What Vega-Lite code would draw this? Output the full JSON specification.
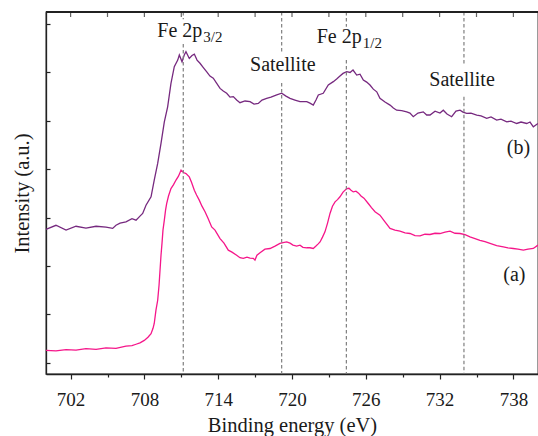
{
  "$schema": "https://vega.github.io/schema/vega-lite/v6.json",
  "width": 492,
  "height": 362,
  "autosize": {"type": "none"},
  "padding": {"left": 46, "top": 12, "right": 0, "bottom": 62},
  "background": "white",
  "config": {
    "view": {"stroke": "#222222", "strokeWidth": 1.3},
    "font": "Liberation Serif",
    "axis": {"grid": false, "domainColor": "#222222", "tickColor": "#222222", "domainWidth": 1.3, "tickWidth": 1.2, "labelColor": "#1a1a1a", "titleColor": "#1a1a1a", "labelFont": "Liberation Serif", "titleFont": "Liberation Serif", "titleFontWeight": "normal"}
  },
  "datasets": {
    "spectra": [
      {"sample": "b", "energy": 700.00, "intensity": 5.51},
      {"sample": "b", "energy": 700.81, "intensity": 5.68},
      {"sample": "b", "energy": 701.63, "intensity": 5.48},
      {"sample": "b", "energy": 702.44, "intensity": 5.64},
      {"sample": "b", "energy": 703.25, "intensity": 5.56},
      {"sample": "b", "energy": 704.07, "intensity": 5.64},
      {"sample": "b", "energy": 704.88, "intensity": 5.60},
      {"sample": "b", "energy": 705.42, "intensity": 5.55},
      {"sample": "b", "energy": 705.69, "intensity": 5.68},
      {"sample": "b", "energy": 706.02, "intensity": 5.77},
      {"sample": "b", "energy": 706.50, "intensity": 5.82},
      {"sample": "b", "energy": 706.99, "intensity": 5.95},
      {"sample": "b", "energy": 707.32, "intensity": 5.89},
      {"sample": "b", "energy": 707.64, "intensity": 6.06},
      {"sample": "b", "energy": 707.86, "intensity": 6.17},
      {"sample": "b", "energy": 708.13, "intensity": 6.51},
      {"sample": "b", "energy": 708.54, "intensity": 6.86},
      {"sample": "b", "energy": 708.80, "intensity": 7.55},
      {"sample": "b", "energy": 709.08, "intensity": 8.24},
      {"sample": "b", "energy": 709.35, "intensity": 9.07},
      {"sample": "b", "energy": 709.62, "intensity": 9.96},
      {"sample": "b", "energy": 709.89, "intensity": 10.58},
      {"sample": "b", "energy": 710.16, "intensity": 11.55},
      {"sample": "b", "energy": 710.43, "intensity": 12.24},
      {"sample": "b", "energy": 710.71, "intensity": 12.51},
      {"sample": "b", "energy": 710.84, "intensity": 12.72},
      {"sample": "b", "energy": 711.06, "intensity": 12.44},
      {"sample": "b", "energy": 711.24, "intensity": 12.72},
      {"sample": "b", "energy": 711.38, "intensity": 12.86},
      {"sample": "b", "energy": 711.65, "intensity": 12.58},
      {"sample": "b", "energy": 711.87, "intensity": 12.70},
      {"sample": "b", "energy": 712.06, "intensity": 12.76},
      {"sample": "b", "energy": 712.28, "intensity": 12.51},
      {"sample": "b", "energy": 712.52, "intensity": 12.38},
      {"sample": "b", "energy": 712.76, "intensity": 12.22},
      {"sample": "b", "energy": 713.07, "intensity": 12.02},
      {"sample": "b", "energy": 713.33, "intensity": 11.85},
      {"sample": "b", "energy": 713.60, "intensity": 11.76},
      {"sample": "b", "energy": 713.88, "intensity": 11.55},
      {"sample": "b", "energy": 714.15, "intensity": 11.34},
      {"sample": "b", "energy": 714.41, "intensity": 11.23},
      {"sample": "b", "energy": 714.69, "intensity": 11.14},
      {"sample": "b", "energy": 714.96, "intensity": 10.98},
      {"sample": "b", "energy": 715.23, "intensity": 11.00},
      {"sample": "b", "energy": 715.50, "intensity": 10.86},
      {"sample": "b", "energy": 715.77, "intensity": 10.75},
      {"sample": "b", "energy": 716.18, "intensity": 10.82},
      {"sample": "b", "energy": 716.59, "intensity": 10.79},
      {"sample": "b", "energy": 716.91, "intensity": 10.69},
      {"sample": "b", "energy": 717.26, "intensity": 10.72},
      {"sample": "b", "energy": 717.56, "intensity": 10.86},
      {"sample": "b", "energy": 717.94, "intensity": 10.93},
      {"sample": "b", "energy": 718.29, "intensity": 10.98},
      {"sample": "b", "energy": 718.76, "intensity": 11.07},
      {"sample": "b", "energy": 719.16, "intensity": 11.14},
      {"sample": "b", "energy": 719.51, "intensity": 11.02},
      {"sample": "b", "energy": 719.84, "intensity": 10.93},
      {"sample": "b", "energy": 720.24, "intensity": 10.86},
      {"sample": "b", "energy": 720.65, "intensity": 10.79},
      {"sample": "b", "energy": 721.20, "intensity": 10.79},
      {"sample": "b", "energy": 721.46, "intensity": 10.73},
      {"sample": "b", "energy": 721.73, "intensity": 10.65},
      {"sample": "b", "energy": 721.95, "intensity": 10.86},
      {"sample": "b", "energy": 722.14, "intensity": 11.07},
      {"sample": "b", "energy": 722.54, "intensity": 11.14},
      {"sample": "b", "energy": 722.95, "intensity": 11.48},
      {"sample": "b", "energy": 723.36, "intensity": 11.62},
      {"sample": "b", "energy": 723.63, "intensity": 11.73},
      {"sample": "b", "energy": 723.90, "intensity": 11.85},
      {"sample": "b", "energy": 724.15, "intensity": 11.96},
      {"sample": "b", "energy": 724.45, "intensity": 12.03},
      {"sample": "b", "energy": 724.72, "intensity": 12.00},
      {"sample": "b", "energy": 724.96, "intensity": 12.10},
      {"sample": "b", "energy": 725.26, "intensity": 11.89},
      {"sample": "b", "energy": 725.53, "intensity": 11.93},
      {"sample": "b", "energy": 725.80, "intensity": 11.69},
      {"sample": "b", "energy": 726.07, "intensity": 11.60},
      {"sample": "b", "energy": 726.34, "intensity": 11.48},
      {"sample": "b", "energy": 726.61, "intensity": 11.31},
      {"sample": "b", "energy": 726.89, "intensity": 11.20},
      {"sample": "b", "energy": 727.15, "intensity": 10.93},
      {"sample": "b", "energy": 727.56, "intensity": 10.78},
      {"sample": "b", "energy": 727.97, "intensity": 10.65},
      {"sample": "b", "energy": 728.24, "intensity": 10.53},
      {"sample": "b", "energy": 728.51, "intensity": 10.44},
      {"sample": "b", "energy": 728.92, "intensity": 10.42},
      {"sample": "b", "energy": 729.33, "intensity": 10.37},
      {"sample": "b", "energy": 729.59, "intensity": 10.32},
      {"sample": "b", "energy": 729.86, "intensity": 10.17},
      {"sample": "b", "energy": 730.24, "intensity": 10.32},
      {"sample": "b", "energy": 730.67, "intensity": 10.37},
      {"sample": "b", "energy": 730.95, "intensity": 10.24},
      {"sample": "b", "energy": 731.22, "intensity": 10.24},
      {"sample": "b", "energy": 731.63, "intensity": 10.40},
      {"sample": "b", "energy": 732.03, "intensity": 10.32},
      {"sample": "b", "energy": 732.30, "intensity": 10.44},
      {"sample": "b", "energy": 732.60, "intensity": 10.28},
      {"sample": "b", "energy": 732.98, "intensity": 10.17},
      {"sample": "b", "energy": 733.33, "intensity": 10.40},
      {"sample": "b", "energy": 733.66, "intensity": 10.44},
      {"sample": "b", "energy": 733.90, "intensity": 10.36},
      {"sample": "b", "energy": 734.20, "intensity": 10.31},
      {"sample": "b", "energy": 734.55, "intensity": 10.32},
      {"sample": "b", "energy": 735.02, "intensity": 10.24},
      {"sample": "b", "energy": 735.37, "intensity": 10.20},
      {"sample": "b", "energy": 735.83, "intensity": 10.10},
      {"sample": "b", "energy": 736.18, "intensity": 10.16},
      {"sample": "b", "energy": 736.64, "intensity": 10.03},
      {"sample": "b", "energy": 736.99, "intensity": 10.07},
      {"sample": "b", "energy": 737.46, "intensity": 9.96},
      {"sample": "b", "energy": 737.80, "intensity": 9.99},
      {"sample": "b", "energy": 738.27, "intensity": 9.89},
      {"sample": "b", "energy": 738.62, "intensity": 9.95},
      {"sample": "b", "energy": 739.08, "intensity": 9.89},
      {"sample": "b", "energy": 739.35, "intensity": 9.95},
      {"sample": "b", "energy": 739.62, "intensity": 9.75},
      {"sample": "b", "energy": 740.00, "intensity": 9.89},
      {"sample": "a", "energy": 700.00, "intensity": 0.51},
      {"sample": "a", "energy": 700.81, "intensity": 0.49},
      {"sample": "a", "energy": 701.63, "intensity": 0.54},
      {"sample": "a", "energy": 702.44, "intensity": 0.52},
      {"sample": "a", "energy": 703.25, "intensity": 0.58},
      {"sample": "a", "energy": 704.07, "intensity": 0.55},
      {"sample": "a", "energy": 704.88, "intensity": 0.61},
      {"sample": "a", "energy": 705.69, "intensity": 0.59},
      {"sample": "a", "energy": 706.50, "intensity": 0.68},
      {"sample": "a", "energy": 706.99, "intensity": 0.70},
      {"sample": "a", "energy": 707.32, "intensity": 0.76},
      {"sample": "a", "energy": 707.64, "intensity": 0.82},
      {"sample": "a", "energy": 707.99, "intensity": 0.92},
      {"sample": "a", "energy": 708.29, "intensity": 1.05},
      {"sample": "a", "energy": 708.54, "intensity": 1.20},
      {"sample": "a", "energy": 708.70, "intensity": 1.42},
      {"sample": "a", "energy": 708.80, "intensity": 1.62},
      {"sample": "a", "energy": 708.94, "intensity": 2.17},
      {"sample": "a", "energy": 709.08, "intensity": 2.58},
      {"sample": "a", "energy": 709.19, "intensity": 3.20},
      {"sample": "a", "energy": 709.27, "intensity": 3.82},
      {"sample": "a", "energy": 709.35, "intensity": 4.44},
      {"sample": "a", "energy": 709.43, "intensity": 4.93},
      {"sample": "a", "energy": 709.51, "intensity": 5.48},
      {"sample": "a", "energy": 709.62, "intensity": 5.89},
      {"sample": "a", "energy": 709.72, "intensity": 6.31},
      {"sample": "a", "energy": 709.81, "intensity": 6.58},
      {"sample": "a", "energy": 709.96, "intensity": 6.89},
      {"sample": "a", "energy": 710.16, "intensity": 7.20},
      {"sample": "a", "energy": 710.37, "intensity": 7.36},
      {"sample": "a", "energy": 710.57, "intensity": 7.55},
      {"sample": "a", "energy": 710.77, "intensity": 7.71},
      {"sample": "a", "energy": 710.98, "intensity": 7.96},
      {"sample": "a", "energy": 711.18, "intensity": 7.86},
      {"sample": "a", "energy": 711.38, "intensity": 7.82},
      {"sample": "a", "energy": 711.65, "intensity": 7.68},
      {"sample": "a", "energy": 711.83, "intensity": 7.46},
      {"sample": "a", "energy": 712.06, "intensity": 7.13},
      {"sample": "a", "energy": 712.24, "intensity": 6.93},
      {"sample": "a", "energy": 712.46, "intensity": 6.72},
      {"sample": "a", "energy": 712.68, "intensity": 6.47},
      {"sample": "a", "energy": 712.93, "intensity": 6.24},
      {"sample": "a", "energy": 713.17, "intensity": 5.97},
      {"sample": "a", "energy": 713.47, "intensity": 5.61},
      {"sample": "a", "energy": 713.74, "intensity": 5.48},
      {"sample": "a", "energy": 714.15, "intensity": 5.13},
      {"sample": "a", "energy": 714.47, "intensity": 4.94},
      {"sample": "a", "energy": 714.82, "intensity": 4.65},
      {"sample": "a", "energy": 715.12, "intensity": 4.57},
      {"sample": "a", "energy": 715.50, "intensity": 4.44},
      {"sample": "a", "energy": 715.77, "intensity": 4.34},
      {"sample": "a", "energy": 716.04, "intensity": 4.31},
      {"sample": "a", "energy": 716.34, "intensity": 4.36},
      {"sample": "a", "energy": 716.59, "intensity": 4.32},
      {"sample": "a", "energy": 716.85, "intensity": 4.31},
      {"sample": "a", "energy": 716.99, "intensity": 4.24},
      {"sample": "a", "energy": 717.15, "intensity": 4.44},
      {"sample": "a", "energy": 717.40, "intensity": 4.54},
      {"sample": "a", "energy": 717.80, "intensity": 4.69},
      {"sample": "a", "energy": 718.21, "intensity": 4.72},
      {"sample": "a", "energy": 718.62, "intensity": 4.82},
      {"sample": "a", "energy": 719.02, "intensity": 4.93},
      {"sample": "a", "energy": 719.27, "intensity": 4.96},
      {"sample": "a", "energy": 719.57, "intensity": 4.99},
      {"sample": "a", "energy": 719.84, "intensity": 4.94},
      {"sample": "a", "energy": 720.08, "intensity": 4.86},
      {"sample": "a", "energy": 720.38, "intensity": 4.82},
      {"sample": "a", "energy": 720.65, "intensity": 4.86},
      {"sample": "a", "energy": 720.89, "intensity": 4.77},
      {"sample": "a", "energy": 721.20, "intensity": 4.75},
      {"sample": "a", "energy": 721.46, "intensity": 4.75},
      {"sample": "a", "energy": 721.73, "intensity": 4.72},
      {"sample": "a", "energy": 721.95, "intensity": 4.82},
      {"sample": "a", "energy": 722.11, "intensity": 4.90},
      {"sample": "a", "energy": 722.28, "intensity": 4.99},
      {"sample": "a", "energy": 722.48, "intensity": 5.19},
      {"sample": "a", "energy": 722.68, "intensity": 5.41},
      {"sample": "a", "energy": 722.89, "intensity": 5.77},
      {"sample": "a", "energy": 723.09, "intensity": 6.17},
      {"sample": "a", "energy": 723.29, "intensity": 6.47},
      {"sample": "a", "energy": 723.50, "intensity": 6.65},
      {"sample": "a", "energy": 723.70, "intensity": 6.74},
      {"sample": "a", "energy": 723.90, "intensity": 6.86},
      {"sample": "a", "energy": 724.15, "intensity": 7.05},
      {"sample": "a", "energy": 724.45, "intensity": 7.20},
      {"sample": "a", "energy": 724.63, "intensity": 7.21},
      {"sample": "a", "energy": 724.80, "intensity": 7.13},
      {"sample": "a", "energy": 724.98, "intensity": 7.06},
      {"sample": "a", "energy": 725.20, "intensity": 7.09},
      {"sample": "a", "energy": 725.41, "intensity": 7.01},
      {"sample": "a", "energy": 725.61, "intensity": 6.89},
      {"sample": "a", "energy": 725.85, "intensity": 6.80},
      {"sample": "a", "energy": 726.20, "intensity": 6.58},
      {"sample": "a", "energy": 726.46, "intensity": 6.41},
      {"sample": "a", "energy": 726.75, "intensity": 6.24},
      {"sample": "a", "energy": 727.15, "intensity": 6.10},
      {"sample": "a", "energy": 727.56, "intensity": 5.82},
      {"sample": "a", "energy": 727.97, "intensity": 5.55},
      {"sample": "a", "energy": 728.37, "intensity": 5.48},
      {"sample": "a", "energy": 728.78, "intensity": 5.44},
      {"sample": "a", "energy": 729.19, "intensity": 5.37},
      {"sample": "a", "energy": 729.59, "intensity": 5.34},
      {"sample": "a", "energy": 730.00, "intensity": 5.25},
      {"sample": "a", "energy": 730.41, "intensity": 5.24},
      {"sample": "a", "energy": 730.81, "intensity": 5.31},
      {"sample": "a", "energy": 731.22, "intensity": 5.30},
      {"sample": "a", "energy": 731.63, "intensity": 5.35},
      {"sample": "a", "energy": 732.03, "intensity": 5.34},
      {"sample": "a", "energy": 732.44, "intensity": 5.40},
      {"sample": "a", "energy": 732.85, "intensity": 5.44},
      {"sample": "a", "energy": 733.25, "intensity": 5.35},
      {"sample": "a", "energy": 733.66, "intensity": 5.34},
      {"sample": "a", "energy": 734.07, "intensity": 5.29},
      {"sample": "a", "energy": 734.47, "intensity": 5.20},
      {"sample": "a", "energy": 734.88, "intensity": 5.13},
      {"sample": "a", "energy": 735.28, "intensity": 5.06},
      {"sample": "a", "energy": 735.69, "intensity": 5.00},
      {"sample": "a", "energy": 736.10, "intensity": 4.93},
      {"sample": "a", "energy": 736.64, "intensity": 4.84},
      {"sample": "a", "energy": 737.18, "intensity": 4.79},
      {"sample": "a", "energy": 737.56, "intensity": 4.75},
      {"sample": "a", "energy": 737.99, "intensity": 4.72},
      {"sample": "a", "energy": 738.37, "intensity": 4.69},
      {"sample": "a", "energy": 738.81, "intensity": 4.65},
      {"sample": "a", "energy": 739.19, "intensity": 4.69},
      {"sample": "a", "energy": 739.62, "intensity": 4.72},
      {"sample": "a", "energy": 740.00, "intensity": 4.86}
    ],
    "guides": [
      {"energy": 711.16, "from": 14.5, "to": 14.2},
      {"energy": 711.16, "from": 13.18, "to": -0.47},
      {"energy": 719.16, "from": 14.5, "to": 12.86},
      {"energy": 719.16, "from": 11.56, "to": -0.47},
      {"energy": 724.42, "from": 14.5, "to": 13.89},
      {"energy": 724.42, "from": 12.51, "to": -0.47},
      {"energy": 733.98, "from": 14.5, "to": 12.31},
      {"energy": 733.98, "from": 11.0, "to": -0.47}
    ],
    "topTicks": [
      {"energy": 702}, {"energy": 705}, {"energy": 708}, {"energy": 711}, {"energy": 714},
      {"energy": 717}, {"energy": 720}, {"energy": 723}, {"energy": 726}, {"energy": 729},
      {"energy": 732}, {"energy": 735}, {"energy": 738}
    ],
    "labels": [
      {"text": "Fe 2p", "energy": 709.05, "intensity": 13.48},
      {"text": "Satellite", "energy": 716.59, "intensity": 12.06},
      {"text": "Fe 2p", "energy": 722.01, "intensity": 13.21},
      {"text": "Satellite", "energy": 731.16, "intensity": 11.44},
      {"text": "(b)", "energy": 737.46, "intensity": 8.62},
      {"text": "(a)", "energy": 737.18, "intensity": 3.38}
    ],
    "subscripts": [
      {"text": "3/2", "energy": 712.79, "intensity": 13.27},
      {"text": "1/2", "energy": 725.75, "intensity": 13.0}
    ]
  },
  "layer": [
    {
      "data": {"name": "spectra"},
      "mark": {"type": "line", "strokeWidth": 1.3},
      "encoding": {
        "x": {"field": "energy", "type": "quantitative", "scale": {"domain": [700, 740], "nice": false, "zero": false},
          "axis": {
            "orient": "bottom",
            "values": [702, 705, 708, 711, 714, 717, 720, 723, 726, 729, 732, 735, 738],
            "tickSize": {"condition": {"test": "datum.value % 6 === 0", "value": 5}, "value": 3},
            "labelExpr": "datum.value % 6 === 0 ? datum.label : ''",
            "labelFont": "Liberation Serif",
            "labelFontSize": 19,
            "labelBaseline": "alphabetic",
            "labelPadding": 26,
            "labelFlush": false,
            "labelOverlap": false,
            "title": "Binding energy (eV)",
            "titleFont": "Liberation Serif",
            "titleFontSize": 20.5,
            "titleBaseline": "alphabetic",
            "titleY": 57.5,
            "titleX": 246
          }
        },
        "y": {"field": "intensity", "type": "quantitative", "scale": {"domain": [-0.47, 14.5], "nice": false, "zero": false},
          "axis": {
            "orient": "left",
            "values": [0, 1, 2, 3, 4, 5, 6, 7, 8, 9, 10, 11, 12, 13, 14],
            "tickSize": -4,
            "labels": false,
            "title": "Intensity (a.u.)",
            "titleFont": "Liberation Serif",
            "titleFontSize": 20.5,
            "titleAngle": 270,
            "titleBaseline": "alphabetic",
            "titleAlign": "center",
            "titleX": -18,
            "titleY": 181
          }
        },
        "color": {"field": "sample", "type": "nominal", "scale": {"domain": ["a", "b"], "range": ["#f5168a", "#76297f"]}, "legend": null}
      }
    },
    {
      "data": {"name": "guides"},
      "mark": {"type": "rule", "color": "#7f7f7f", "strokeWidth": 1.2, "strokeDash": [3.5, 2.5]},
      "encoding": {
        "x": {"field": "energy", "type": "quantitative"},
        "y": {"field": "from", "type": "quantitative"},
        "y2": {"field": "to"}
      }
    },
    {
      "data": {"name": "labels"},
      "mark": {"type": "text", "align": "left", "baseline": "alphabetic", "fontSize": 20, "font": "Liberation Serif", "color": "#1a1a1a"},
      "encoding": {
        "x": {"field": "energy", "type": "quantitative"},
        "y": {"field": "intensity", "type": "quantitative"},
        "text": {"field": "text", "type": "nominal"}
      }
    },
    {
      "data": {"name": "subscripts"},
      "mark": {"type": "text", "align": "left", "baseline": "alphabetic", "fontSize": 15, "font": "Liberation Serif", "color": "#1a1a1a"},
      "encoding": {
        "x": {"field": "energy", "type": "quantitative"},
        "y": {"field": "intensity", "type": "quantitative"},
        "text": {"field": "text", "type": "nominal"}
      }
    },
    {
      "data": {"name": "topTicks"},
      "mark": {"type": "rule", "color": "#222222", "strokeWidth": 1.5},
      "encoding": {
        "x": {"datum": 700, "type": "quantitative"},
        "x2": {"datum": 740},
        "y": {"datum": 14.5, "type": "quantitative"}
      }
    },
    {
      "data": {"name": "topTicks"},
      "mark": {"type": "tick", "orient": "vertical", "color": "#222222", "size": 5, "thickness": 1.2, "yOffset": 2.5},
      "encoding": {
        "x": {"field": "energy", "type": "quantitative"},
        "y": {"datum": 14.5, "type": "quantitative"}
      }
    }
  ]
}
